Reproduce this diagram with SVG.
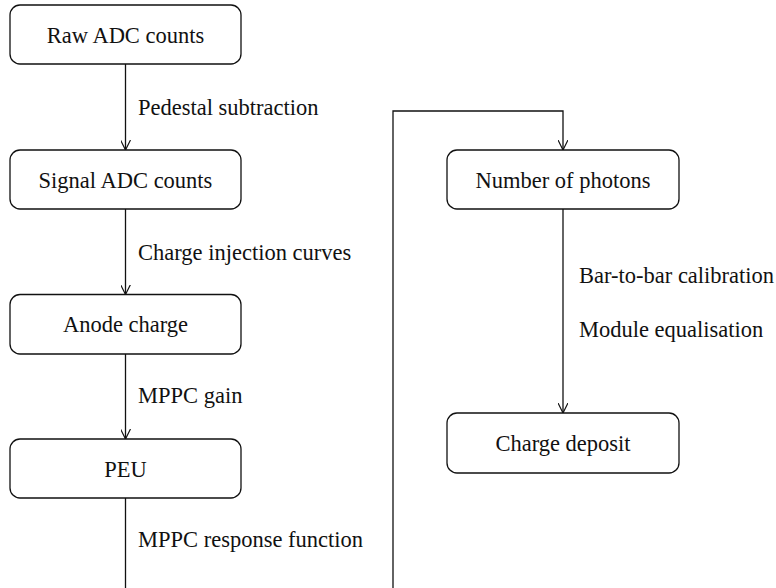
<svg xmlns="http://www.w3.org/2000/svg" width="776" height="588" viewBox="0 0 776 588">
<defs>
<marker id="arr" viewBox="0 0 10 10" refX="10" refY="5" markerWidth="10" markerHeight="10" markerUnits="userSpaceOnUse" orient="auto">
<path d="M0,0 L10,5 L0,10" fill="none" stroke="#111" stroke-width="1.2"/>
</marker>
</defs>
<rect width="776" height="588" fill="#fff"/>
<g id="connectors" fill="none" stroke="#111" stroke-width="1.3">
<line x1="125.5" y1="64" x2="125.5" y2="150" marker-end="url(#arr)"/>
<line x1="125.5" y1="209" x2="125.5" y2="294.5" marker-end="url(#arr)"/>
<line x1="125.5" y1="354" x2="125.5" y2="439" marker-end="url(#arr)"/>
<path d="M125.5,498 V600 H393 V111 H563 V150" marker-end="url(#arr)"/>
<line x1="563" y1="209" x2="563" y2="413" marker-end="url(#arr)"/>
</g>
<g id="labels" fill="#111" stroke="none">
<text style="font-family:'Liberation Serif',serif;font-size:22.5px" x="138" y="115">Pedestal subtraction</text>
<text style="font-family:'Liberation Serif',serif;font-size:22.5px" x="138" y="260">Charge injection curves</text>
<text style="font-family:'Liberation Serif',serif;font-size:22.5px" x="138" y="403">MPPC gain</text>
<text style="font-family:'Liberation Serif',serif;font-size:22.5px" x="138" y="547">MPPC response function</text>
<text style="font-family:'Liberation Serif',serif;font-size:22.5px" x="579" y="283">Bar-to-bar calibration</text>
<text style="font-family:'Liberation Serif',serif;font-size:22.5px" x="579" y="337">Module equalisation</text>
</g>
<g fill="#fff" stroke="#111" stroke-width="1.3">
<g id="raw">
<rect x="10" y="5" width="231" height="59" rx="10"/>
<text style="font-family:'Liberation Serif',serif;font-size:22.5px" fill="#111" stroke="none" text-anchor="middle" x="125.5" y="42.5">Raw ADC counts</text>
</g>
<g id="signal">
<rect x="10" y="150" width="231" height="59" rx="10"/>
<text style="font-family:'Liberation Serif',serif;font-size:22.5px" fill="#111" stroke="none" text-anchor="middle" x="125.5" y="187.5">Signal ADC counts</text>
</g>
<g id="anode">
<rect x="10" y="294.5" width="231" height="59.5" rx="10"/>
<text style="font-family:'Liberation Serif',serif;font-size:22.5px" fill="#111" stroke="none" text-anchor="middle" x="125.5" y="332">Anode charge</text>
</g>
<g id="peu">
<rect x="10" y="439" width="231" height="59" rx="10"/>
<text style="font-family:'Liberation Serif',serif;font-size:22.5px" fill="#111" stroke="none" text-anchor="middle" x="125.5" y="476.5">PEU</text>
</g>
<g id="photons">
<rect x="447" y="150" width="232" height="59" rx="10"/>
<text style="font-family:'Liberation Serif',serif;font-size:22.5px" fill="#111" stroke="none" text-anchor="middle" x="563" y="187.5">Number of photons</text>
</g>
<g id="deposit">
<rect x="447" y="413" width="232" height="60" rx="10"/>
<text style="font-family:'Liberation Serif',serif;font-size:22.5px" fill="#111" stroke="none" text-anchor="middle" x="563" y="451">Charge deposit</text>
</g>
</g>
</svg>
